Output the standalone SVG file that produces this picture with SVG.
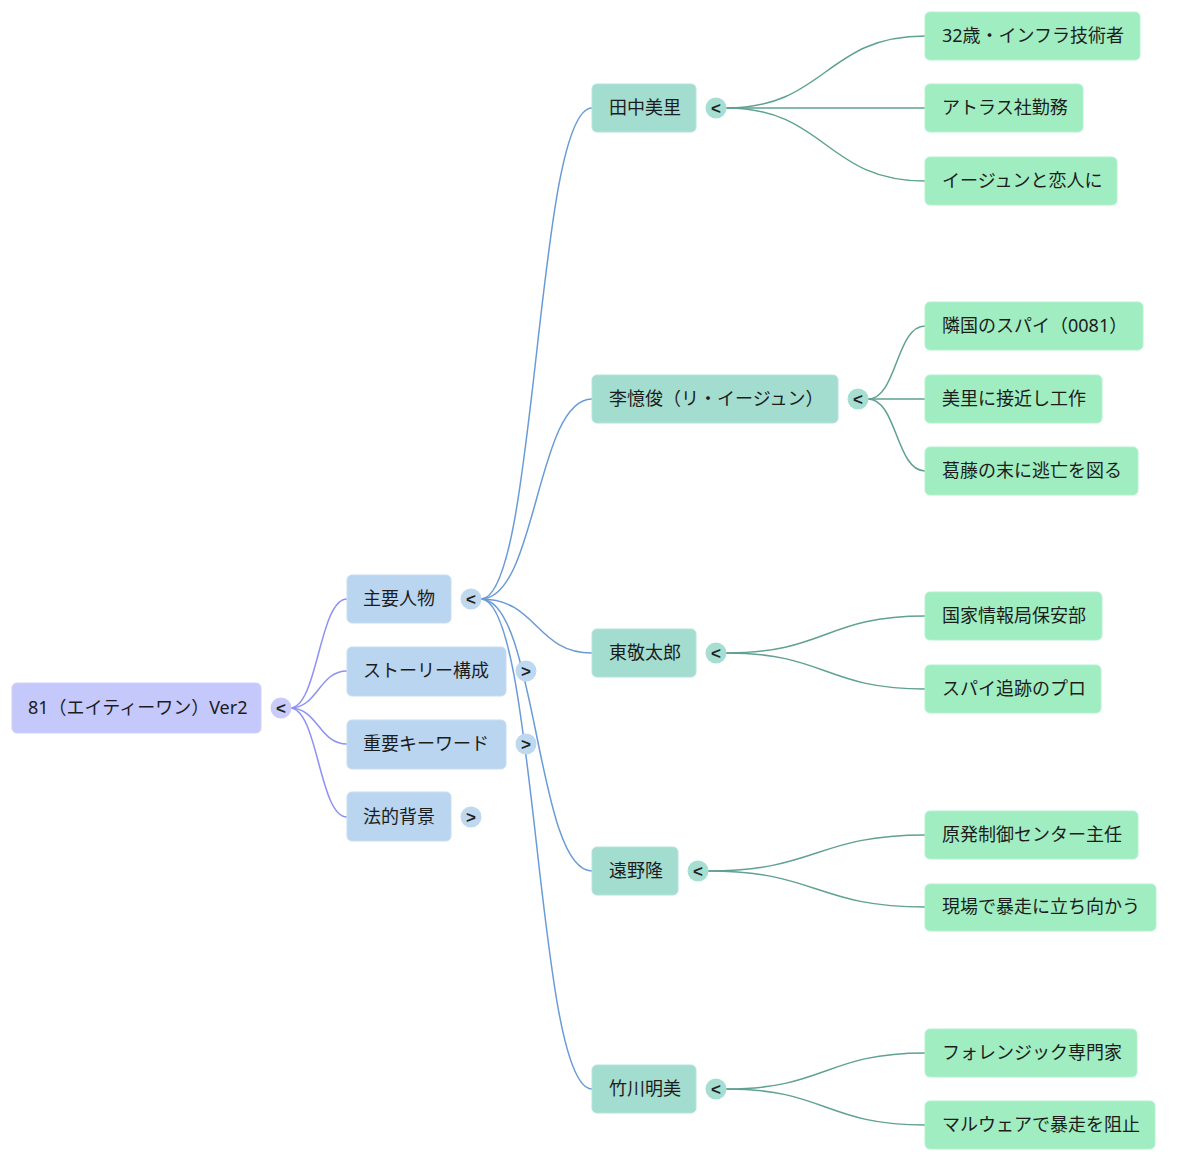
<svg xmlns="http://www.w3.org/2000/svg" width="1200" height="1162" viewBox="0 0 1200 1162">
<style>
text{font-family:"Noto Sans","Noto Sans CJK JP",sans-serif;fill:#1c1c1c}
.t{font-size:18px}
.tg{font-family:"Liberation Sans","Noto Sans",sans-serif;font-size:17px;font-weight:bold;text-anchor:middle;fill:#222}
.r0{fill:#c4c8fb;stroke:#cdd0fb;stroke-width:1}
.r1{fill:#bad5ef;stroke:#c7ddf3;stroke-width:1}
.r2{fill:#a3ddd0;stroke:#b3e4d9;stroke-width:1}
.r3{fill:#a1edc2;stroke:#b4f1cf;stroke-width:1}
.c0{fill:#c9ccfb}.c1{fill:#bed8f0}.c2{fill:#a6ded2}
.e0{fill:none;stroke:#8c91f4;stroke-width:1.5}
.e1{fill:none;stroke:#6a9bd6;stroke-width:1.5}
.e2{fill:none;stroke:#5fa192;stroke-width:1.5}
</style>
<g id="connectors">
<path class="e0" d="M290 708 C318 708 319 599 347 599"/>
<path class="e0" d="M290 708 C318 708 319 671 347 671"/>
<path class="e0" d="M290 708 C318 708 319 744 347 744"/>
<path class="e0" d="M290 708 C318 708 319 817 347 817"/>
<path class="e1" d="M481 599 C537 599 536 108 592 108"/>
<path class="e1" d="M481 599 C537 599 536 399 592 399"/>
<path class="e1" d="M481 599 C537 599 536 653 592 653"/>
<path class="e1" d="M481 599 C537 599 536 871 592 871"/>
<path class="e1" d="M481 599 C537 599 536 1089 592 1089"/>
<path class="e2" d="M726 108 C826 108 825 36 925 36"/>
<path class="e2" d="M726 108 L925 108"/>
<path class="e2" d="M726 108 C826 108 825 181 925 181"/>
<path class="e2" d="M868 399 C897 399 896 326 925 326"/>
<path class="e2" d="M868 399 L925 399"/>
<path class="e2" d="M868 399 C897 399 896 471 925 471"/>
<path class="e2" d="M726 653 C826 653 825 616 925 616"/>
<path class="e2" d="M726 653 C826 653 825 689 925 689"/>
<path class="e2" d="M708 871 C817 871 816 835 925 835"/>
<path class="e2" d="M708 871 C817 871 816 907 925 907"/>
<path class="e2" d="M726 1089 C826 1089 825 1053 925 1053"/>
<path class="e2" d="M726 1089 C826 1089 825 1125 925 1125"/>
</g>
<g id="root">
<rect class="r0" x="12" y="683" width="249" height="50" rx="5"/>
<text class="t" x="28" y="714">81（エイティーワン）Ver2</text>
<circle class="c0" cx="281" cy="708" r="10.5"/><text class="tg" x="281" y="714">&lt;</text>
</g>
<g id="n-shuyou">
<rect class="r1" x="347" y="575" width="104" height="48" rx="5"/>
<text class="t" x="363" y="605">主要人物</text>
<circle class="c1" cx="471" cy="599" r="10.5"/><text class="tg" x="471" y="605">&lt;</text>
</g>
<g id="n-story">
<rect class="r1" x="347" y="647" width="159" height="49" rx="5"/>
<text class="t" x="363" y="677">ストーリー構成</text>
<circle class="c1" cx="526" cy="671" r="10.5"/><text class="tg" x="526" y="677">&gt;</text>
</g>
<g id="n-keyword">
<rect class="r1" x="347" y="720" width="159" height="49" rx="5"/>
<text class="t" x="363" y="750">重要キーワード</text>
<circle class="c1" cx="526" cy="744" r="10.5"/><text class="tg" x="526" y="750">&gt;</text>
</g>
<g id="n-legal">
<rect class="r1" x="347" y="792" width="104" height="49" rx="5"/>
<text class="t" x="363" y="823">法的背景</text>
<circle class="c1" cx="471" cy="817" r="10.5"/><text class="tg" x="471" y="823">&gt;</text>
</g>
<g id="n-tanaka">
<rect class="r2" x="592" y="84" width="104" height="48" rx="5"/>
<text class="t" x="609" y="114">田中美里</text>
<circle class="c2" cx="716" cy="108" r="10.5"/><text class="tg" x="716" y="114">&lt;</text>
</g>
<g id="n-lee">
<rect class="r2" x="592" y="375" width="246" height="48" rx="5"/>
<text class="t" x="609" y="405">李憶俊（リ・イージュン）</text>
<circle class="c2" cx="858" cy="399" r="10.5"/><text class="tg" x="858" y="405">&lt;</text>
</g>
<g id="n-higashi">
<rect class="r2" x="592" y="629" width="104" height="48" rx="5"/>
<text class="t" x="609" y="659">東敬太郎</text>
<circle class="c2" cx="716" cy="653" r="10.5"/><text class="tg" x="716" y="659">&lt;</text>
</g>
<g id="n-tono">
<rect class="r2" x="592" y="847" width="86" height="48" rx="5"/>
<text class="t" x="609" y="877">遠野隆</text>
<circle class="c2" cx="698" cy="871" r="10.5"/><text class="tg" x="698" y="877">&lt;</text>
</g>
<g id="n-takekawa">
<rect class="r2" x="592" y="1065" width="104" height="48" rx="5"/>
<text class="t" x="609" y="1095">竹川明美</text>
<circle class="c2" cx="716" cy="1089" r="10.5"/><text class="tg" x="716" y="1095">&lt;</text>
</g>
<g id="n-t1"><rect class="r3" x="925" y="12" width="215" height="48" rx="5"/><text class="t" x="942" y="42">32歳・インフラ技術者</text></g>
<g id="n-t2"><rect class="r3" x="925" y="84" width="158" height="48" rx="5"/><text class="t" x="942" y="114">アトラス社勤務</text></g>
<g id="n-t3"><rect class="r3" x="925" y="157" width="192" height="48" rx="5"/><text class="t" x="942" y="187">イージュンと恋人に</text></g>
<g id="n-l1"><rect class="r3" x="925" y="302" width="218" height="48" rx="5"/><text class="t" x="942" y="332">隣国のスパイ（0081）</text></g>
<g id="n-l2"><rect class="r3" x="925" y="375" width="177" height="48" rx="5"/><text class="t" x="942" y="405">美里に接近し工作</text></g>
<g id="n-l3"><rect class="r3" x="925" y="447" width="213" height="48" rx="5"/><text class="t" x="942" y="477">葛藤の末に逃亡を図る</text></g>
<g id="n-h1"><rect class="r3" x="925" y="592" width="177" height="48" rx="5"/><text class="t" x="942" y="622">国家情報局保安部</text></g>
<g id="n-h2"><rect class="r3" x="925" y="665" width="176" height="48" rx="5"/><text class="t" x="942" y="695">スパイ追跡のプロ</text></g>
<g id="n-o1"><rect class="r3" x="925" y="811" width="213" height="48" rx="5"/><text class="t" x="942" y="841">原発制御センター主任</text></g>
<g id="n-o2"><rect class="r3" x="925" y="884" width="231" height="47" rx="5"/><text class="t" x="942" y="913">現場で暴走に立ち向かう</text></g>
<g id="n-k1"><rect class="r3" x="925" y="1029" width="212" height="48" rx="5"/><text class="t" x="942" y="1059">フォレンジック専門家</text></g>
<g id="n-k2"><rect class="r3" x="925" y="1101" width="230" height="48" rx="5"/><text class="t" x="942" y="1131">マルウェアで暴走を阻止</text></g>
</svg>
